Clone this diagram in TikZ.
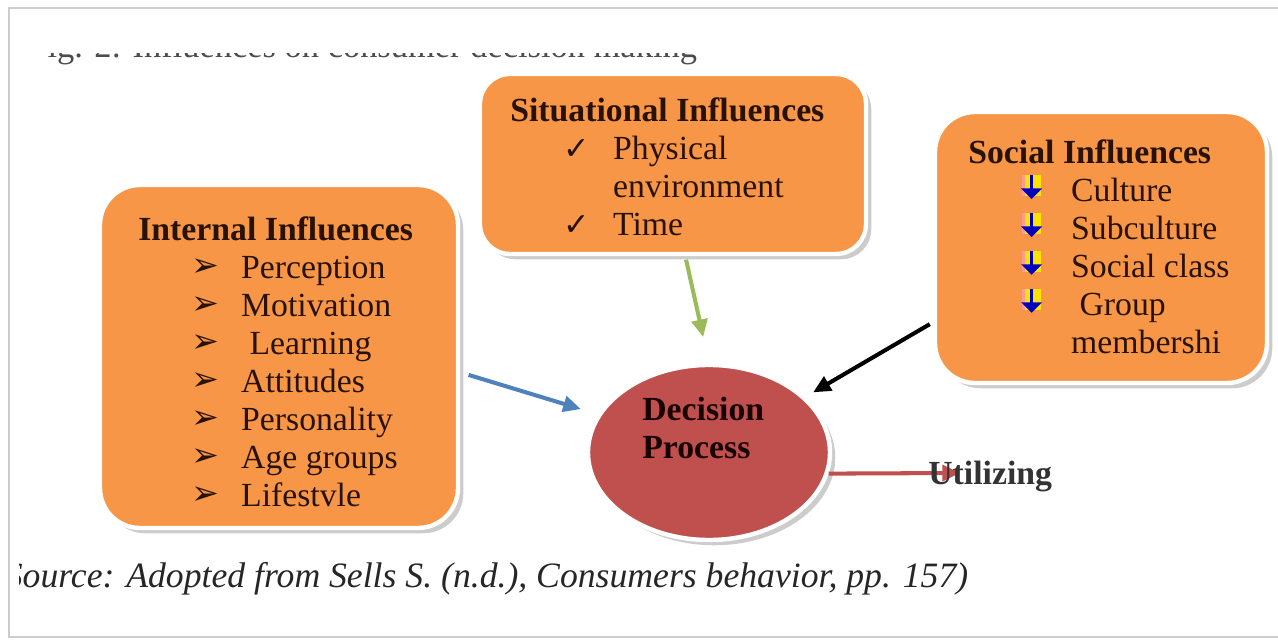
\documentclass[tikz,border=0pt]{standalone}
\usepackage{xcolor}
\usepackage{fontspec}
\setmainfont{Liberation Serif}
\newfontfamily\dejavu{DejaVu Sans}
\usepackage{tikz}
\usetikzlibrary{arrows,arrows.meta,positioning,calc,shapes,shadows}

\definecolor{boxorange}{RGB}{247,150,70}
\definecolor{decred}{RGB}{192,80,77}
\definecolor{arrblue}{RGB}{79,129,189}
\definecolor{arrgreen}{RGB}{155,187,89}
\definecolor{inktext}{RGB}{40,18,5}
\definecolor{framegray}{RGB}{205,205,205}

\newcommand{\bigfont}{\fontsize{19.2}{21.6}\selectfont}
\newcommand{\arwbul}{{\dejavu\fontsize{19}{19}\selectfont\raisebox{1pt}{➢}}}
\newcommand{\tickbul}{{\dejavu\bfseries\fontsize{18}{18}\selectfont ✓}}
\newcommand{\socbul}{\tikz[x=1pt,y=1pt,baseline=0pt,line width=0pt]{%
  \fill[yellow!85!orange] (1,3) rectangle (12,15);
  \fill[pink!80!red] (1,3) rectangle (2.5,15);
  \fill[blue!75!black] (5.5,7) rectangle (7.5,15);
  \fill[blue!75!black] (0.5,7.5) -- (12.5,7.5) -- (6.5,1.5) -- cycle;}}
\newcommand{\inflitem}[2]{\hspace*{30pt}\makebox[28.5pt][l]{#1}#2}

\tikzset{
  inflbox/.style={rectangle, fill=boxorange, draw=white, line width=2.5pt,
    drop shadow={shadow xshift=3pt, shadow yshift=-3pt, fill=black!40}},
  infltext/.style={anchor=north west, align=left, inner sep=0pt,
    font=\bigfont, text=inktext},
  conn/.style={line width=2.3pt, -{Triangle[length=10pt,width=9pt]}}
}

\begin{document}
\begin{tikzpicture}
\useasboundingbox (0,0) rectangle (25.56,12.84);

% Frame
\draw[framegray, line width=1.2pt] (0.18,0.1) rectangle (26,12.68);

% Caption, cut at the top
\begin{scope}
\clip (0.82,11.76) rectangle (20,10.5);
\node[anchor=base west, inner sep=0pt, font=\fontsize{19.6}{21}\selectfont, text=black!70] (caption) at (0.56,11.68) {Fig. 2: Influences on consumer decision making};
\end{scope}

% Internal influences box
\node[inflbox, rounded corners=0.8cm, minimum width=7.16cm, minimum height=6.86cm] (intl) at (5.58,5.71) {};
\node[infltext] (intltxt) at (2.76,8.51) {\textbf{Internal Influences}\\
\inflitem{\arwbul}{Perception}\\
\inflitem{\arwbul}{Motivation}\\
\inflitem{\arwbul}{\ Learning}\\
\inflitem{\arwbul}{Attitudes}\\
\inflitem{\arwbul}{Personality}\\
\inflitem{\arwbul}{Age groups}\\
\inflitem{\arwbul}{Lifestvle}};

% Situational influences box
\node[inflbox, rounded corners=0.6cm, minimum width=7.72cm, minimum height=3.6cm] (sit) at (13.46,9.56) {};
\node[infltext] (sittxt) at (10.2,10.89) {\textbf{Situational Influences}\\
\inflitem{\tickbul}{Physical}\\
\inflitem{}{environment}\\
\inflitem{\tickbul}{Time}};

% Social influences box
\node[inflbox, rounded corners=0.8cm, minimum width=6.64cm, minimum height=5.42cm] (soc) at (22.02,7.89) {};
\node[infltext] (soctxt) at (19.36,10.05) {\textbf{Social Influences}\\
\inflitem{\socbul}{Culture}\\
\inflitem{\socbul}{Subculture}\\
\inflitem{\socbul}{Social class}\\
\inflitem{\socbul}{\ Group}\\
\inflitem{}{membershi}};

% Decision process
\node[ellipse, fill=decred, draw=white, line width=2.5pt,
  drop shadow={shadow xshift=3pt, shadow yshift=-3pt, fill=black!40},
  minimum width=4.84cm, minimum height=3.5cm] (dec) at (14.18,3.79) {};
\node[infltext, font=\bigfont\bfseries, text=black!90!red] (dectxt) at (12.84,4.9) {Decision\\Process};

% Arrows into the decision process
\draw[conn, arrblue, shorten <=5pt, shorten >=10pt] (intl.-5) -- (dec.161);
\draw[conn, arrgreen, shorten <=2pt, shorten >=15pt] ([xshift=7pt]sit.south) -- (dec.north);
\draw[conn, black, shorten <=2pt, shorten >=5pt] (soc.204) -- (dec.30);

% Utilizing
\coordinate (utiltip) at (19.2,3.38);
\draw[conn, decred] (dec.-10) -- (utiltip);
\node[anchor=base west, inner sep=0pt, font=\bigfont\bfseries, text=black!80] (util) at (18.56,3.14) {Utilizing};

% Source line, cut on the left
\begin{scope}
\clip (0.38,0.5) rectangle (22,2);
\node[anchor=base west, inner sep=0pt, font=\fontsize{20.3}{22}\selectfont\itshape, text=black!85] (source) at (0.09,1.08) {Source: Adopted from Sells S. (n.d.), Consumers behavior, pp. 157)};
\end{scope}
\end{tikzpicture}
\end{document}
